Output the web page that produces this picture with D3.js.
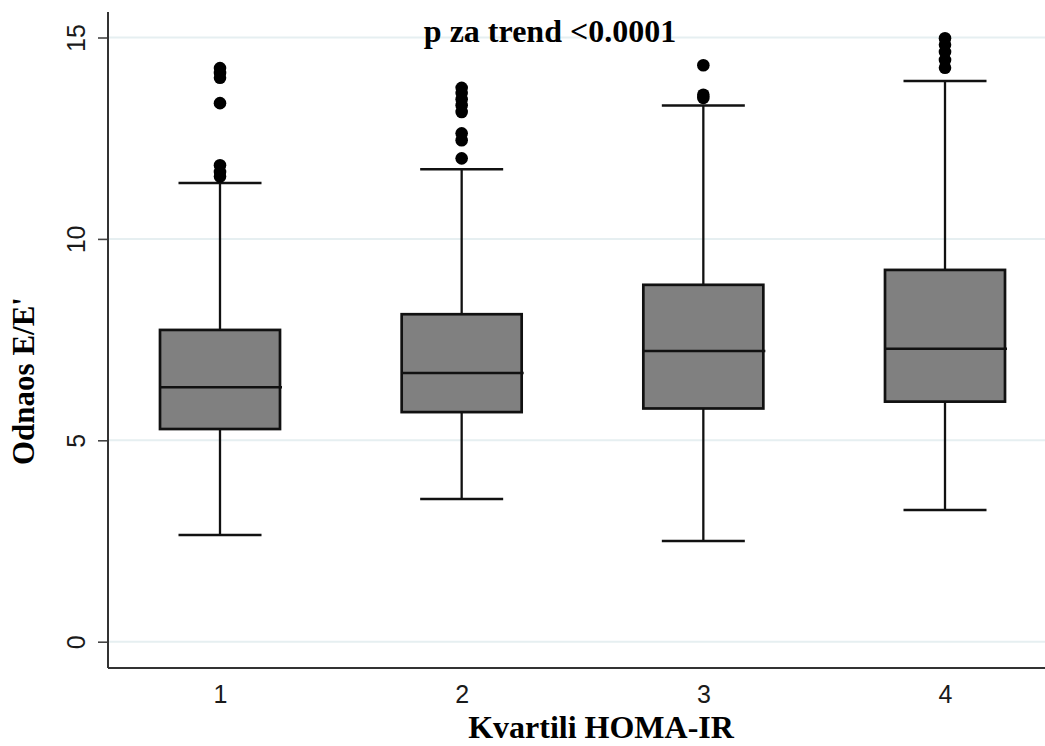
<!DOCTYPE html>
<html><head><meta charset="utf-8">
<script src="https://cdn.jsdelivr.net/npm/d3@7"></script>
<style>
html,body{margin:0;padding:0;background:#fff;}
svg{display:block;}
</style></head>
<body>
<svg id="chart" width="1045" height="746"></svg>
<script>
const categories = ['1', '2', '3', '4'];
const lowerWhisker = [2.65, 3.54, 2.50, 3.27];
const q1 = [5.28, 5.70, 5.79, 5.96];
const median = [6.32, 6.67, 7.22, 7.27];
const q3 = [7.74, 8.13, 8.86, 9.23];
const upperWhisker = [11.39, 11.73, 13.31, 13.92];
const outliers1 = [14.24, 14.12, 14.0, 13.37, 11.83, 11.66, 11.55];
const outliers2 = [13.75, 13.62, 13.47, 13.32, 13.15, 12.62, 12.45, 12.0];
const outliers3 = [14.31, 13.58, 13.5];
const outliers4 = [14.98, 14.82, 14.64, 14.44, 14.25];
const yTicks = [0, 5, 10, 15];
const title = 'p za trend <0.0001';
const xTitle = 'Kvartili HOMA-IR';
const yTitle = "Odnaos E/E'";

const outliers = [outliers1, outliers2, outliers3, outliers4];
const boxes = categories.map((c, i) => ({
  cat: c, lo: lowerWhisker[i], q1: q1[i], med: median[i], q3: q3[i], hi: upperWhisker[i], out: outliers[i]
}));

const svg = d3.select('#chart');
const mLeft = 108, mRight = 1045, mTop = 12, mBottom = 668;

const x = d3.scalePoint().domain(categories).range([220, 945]);
const y = d3.scaleLinear().domain([0, 15]).range([641.7, 37.5]);
const boxW = 120, capW = 83;

// gridlines
svg.append('g').selectAll('line').data(yTicks).join('line')
  .attr('x1', mLeft).attr('x2', mRight)
  .attr('y1', d => y(d)).attr('y2', d => y(d))
  .attr('stroke', '#e6eff1').attr('stroke-width', 2);

// y axis
const yAxis = d3.axisLeft(y).tickValues(yTicks).tickSize(10).tickPadding(0).tickFormat(d3.format('d'));
const gy = svg.append('g').attr('transform', `translate(${mLeft},0)`).call(yAxis);
gy.select('.domain').remove();
gy.selectAll('.tick line').attr('stroke', '#444').attr('stroke-width', 1.6);
gy.selectAll('.tick text')
  .attr('x', null).attr('dy', null)
  .attr('transform', 'translate(-23,0) rotate(-90)')
  .attr('text-anchor', 'middle')
  .attr('font-family', 'Liberation Sans, Arial, sans-serif')
  .attr('font-size', 25).attr('fill', '#1a1a1a');

// x axis
const xAxis = d3.axisBottom(x).tickSize(0).tickPadding(0);
const gx = svg.append('g').attr('transform', `translate(0,${mBottom})`).call(xAxis);
gx.select('.domain').remove();
gx.selectAll('.tick text')
  .attr('y', 35).attr('dy', null)
  .attr('font-family', 'Liberation Sans, Arial, sans-serif')
  .attr('font-size', 25).attr('fill', '#1a1a1a');

// axis lines
svg.append('line').attr('x1', mLeft).attr('x2', mLeft).attr('y1', mTop).attr('y2', mBottom)
  .attr('stroke', '#333').attr('stroke-width', 2);
svg.append('line').attr('x1', mLeft).attr('x2', mRight).attr('y1', mBottom).attr('y2', mBottom)
  .attr('stroke', '#333').attr('stroke-width', 2);

// boxes
const g = svg.append('g').selectAll('g').data(boxes).join('g');
const ink = '#111';
g.append('line').attr('x1', d => x(d.cat)).attr('x2', d => x(d.cat))
  .attr('y1', d => y(d.q3)).attr('y2', d => y(d.hi)).attr('stroke', ink).attr('stroke-width', 2.3);
g.append('line').attr('x1', d => x(d.cat)).attr('x2', d => x(d.cat))
  .attr('y1', d => y(d.q1)).attr('y2', d => y(d.lo)).attr('stroke', ink).attr('stroke-width', 2.3);
g.append('line').attr('x1', d => x(d.cat) - capW / 2).attr('x2', d => x(d.cat) + capW / 2)
  .attr('y1', d => y(d.hi)).attr('y2', d => y(d.hi)).attr('stroke', ink).attr('stroke-width', 2.5);
g.append('line').attr('x1', d => x(d.cat) - capW / 2).attr('x2', d => x(d.cat) + capW / 2)
  .attr('y1', d => y(d.lo)).attr('y2', d => y(d.lo)).attr('stroke', ink).attr('stroke-width', 2.5);
g.append('rect').attr('x', d => x(d.cat) - boxW / 2).attr('width', boxW)
  .attr('y', d => y(d.q3)).attr('height', d => y(d.q1) - y(d.q3))
  .attr('fill', '#808080').attr('stroke', ink).attr('stroke-width', 2.7);
g.append('line').attr('x1', d => x(d.cat) - boxW / 2).attr('x2', d => x(d.cat) + boxW / 2 + 2)
  .attr('y1', d => y(d.med)).attr('y2', d => y(d.med)).attr('stroke', ink).attr('stroke-width', 2.5);
g.selectAll('circle').data(d => d.out.map(v => ({cat: d.cat, v}))).join('circle')
  .attr('cx', d => x(d.cat)).attr('cy', d => y(d.v)).attr('r', 6.3).attr('fill', '#000');

// titles
const serif = 'Liberation Serif, Times New Roman, serif';
svg.append('text').attr('x', 550).attr('y', 42).attr('text-anchor', 'middle')
  .attr('font-family', serif).attr('font-weight', 'bold').attr('font-size', 32).text(title);
svg.append('text').attr('x', 601).attr('y', 738).attr('text-anchor', 'middle')
  .attr('font-family', serif).attr('font-weight', 'bold').attr('font-size', 32).text(xTitle);
svg.append('text').attr('transform', 'translate(34,381) rotate(-90)').attr('text-anchor', 'middle')
  .attr('font-family', serif).attr('font-weight', 'bold').attr('font-size', 31).text(yTitle);
</script>
</body></html>
